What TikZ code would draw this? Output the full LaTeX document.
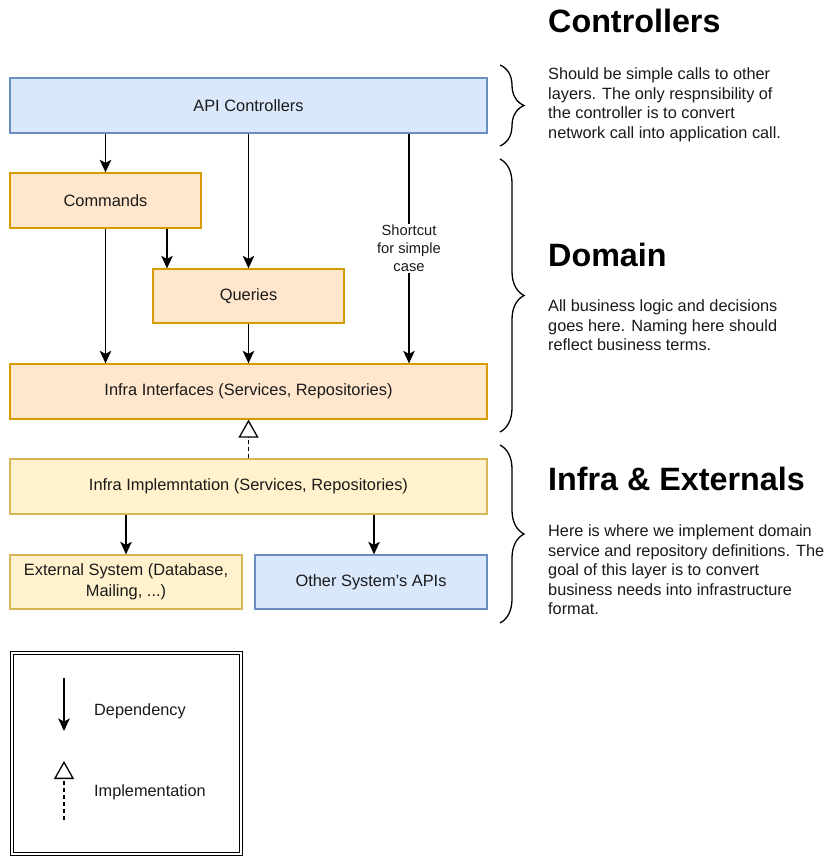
\documentclass[tikz,border=0pt]{standalone}
\usepackage{fontspec}
\setmainfont{Liberation Sans}
\usetikzlibrary{arrows.meta,decorations.pathreplacing,calc}
\definecolor{bfill}{HTML}{DAE8FC}
\definecolor{bdraw}{HTML}{6C8EBF}
\definecolor{ofill}{HTML}{FFE6CC}
\definecolor{odraw}{HTML}{D79B00}
\definecolor{yfill}{HTML}{FFF2CC}
\definecolor{ydraw}{HTML}{D6B656}
\definecolor{txt}{HTML}{1A1A1A}
\begin{document}
\begin{tikzpicture}[x=1pt,y=-1pt,
  box/.style={draw, line width=1.3pt, inner sep=2pt, align=center,
    font=\fontsize{16.4}{20.5}\selectfont, text=txt},
  bluebox/.style={box, fill=bfill, draw=bdraw},
  orangebox/.style={box, fill=ofill, draw=odraw},
  yellowbox/.style={box, fill=yfill, draw=ydraw},
  dep/.style={line width=1.5pt, draw=black, -{Stealth[length=12.5pt,width=11.5pt,inset=3pt]}},
  impl/.style={line width=1.2pt, draw=black, dash pattern=on 4pt off 3pt,
    -{Triangle[open,length=18pt,width=20pt,fill=white,line width=1.3pt]}},
  bracestyle/.style={decorate, decoration={brace, amplitude=24pt}, line width=1.3pt},
  head/.style={anchor=base west, inner sep=0pt, font=\fontsize{32.3}{38}\selectfont\bfseries},
  desc/.style={anchor=base west, inner sep=0pt, font=\fontsize{16.3}{19.5}\selectfont, text=txt},
  legtext/.style={anchor=west, inner sep=0pt, font=\fontsize{16.3}{19.5}\selectfont, text=txt}
]
\useasboundingbox[fill=white] (0,0) rectangle (828,867);

% boxes
\node[bluebox, minimum width=477pt, minimum height=55pt] (api) at (248.5,105.5) {API Controllers};
\node[orangebox, minimum width=191pt, minimum height=55pt] (cmd) at (105.5,200.5) {Commands};
\node[orangebox, minimum width=191pt, minimum height=54pt] (qry) at (248.5,296) {Queries};
\node[orangebox, minimum width=477pt, minimum height=55pt] (ii) at (248.5,391.5) {Infra Interfaces (Services, Repositories)};
\node[yellowbox, minimum width=477pt, minimum height=55pt] (impl) at (248.5,486.5) {Infra Implemntation (Services, Repositories)};
\node[yellowbox, minimum width=232pt, minimum height=54pt] (ext) at (126,582) {External System (Database,\\Mailing, ...)};
\node[bluebox, minimum width=232pt, minimum height=54pt] (other) at (371,582) {Other System's APIs};

% helper x positions
\coordinate (scx) at (409,0);
\coordinate (cqx) at (167,0);
\coordinate (otx) at (374,0);

% connectors
\draw[dep] (api.south -| cmd) -- (cmd.north);
\draw[dep] (api.south -| qry) -- (qry.north);
\draw[dep] (api.south -| scx) -- node[fill=white, inner sep=1pt, align=center,
   font=\fontsize{14.7}{18}\selectfont, text=txt] (sc) {Shortcut\\for simple\\case} (ii.north -| scx);
\draw[dep] (cmd.south -| cqx) -- (qry.north -| cqx);
\draw[dep] (cmd.south) -- (ii.north -| cmd);
\draw[dep] (qry.south) -- (ii.north -| qry);
\draw[impl] (impl.north -| ii) -- (ii.south);
\draw[dep] (impl.south -| ext) -- (ext.north);
\draw[dep] (impl.south -| otx) -- (other.north -| otx);

% braces
\coordinate (b1t) at (500,65);  \coordinate (b1b) at (500,146);
\coordinate (b2t) at (500,159); \coordinate (b2b) at (500,432);
\coordinate (b3t) at (500,445); \coordinate (b3b) at (500,623);
\draw[bracestyle] (b1t) -- (b1b);
\draw[bracestyle] (b2t) -- (b2b);
\draw[bracestyle] (b3t) -- (b3b);

% headings and descriptions
\node[head] (hc) at (548,33) {Controllers};
\node[desc] (dc) at (548,80) {\begin{tabular}[t]{@{}l@{}}Should be simple calls to other\\layers. The only respnsibility of\\the controller is to convert\\network call into application call.\end{tabular}};
\node[head] (hd) at (548,266) {Domain};
\node[desc] (dd) at (548,311.5) {\begin{tabular}[t]{@{}l@{}}All business logic and decisions\\goes here. Naming here should\\reflect business terms.\end{tabular}};
\node[head] (hi) at (548,490) {Infra \& Externals};
\node[desc] (di) at (548,536.5) {\begin{tabular}[t]{@{}l@{}}Here is where we implement domain\\service and repository definitions. The\\goal of this layer is to convert\\business needs into infrastructure\\format.\end{tabular}};

% legend
\node[draw=black, double, double distance=2pt, line width=1pt,
  minimum width=229pt, minimum height=201pt] (legend) at (126.5,753.5) {};
\coordinate (dtop) at (64,678); \coordinate (dbot) at (64,731);
\draw[dep] (dtop) -- (dbot);
\coordinate (itop) at (64,761); \coordinate (ibot) at (64,820);
\draw[impl] (ibot) -- (itop);
\node[legtext] (ldep) at (94,711) {Dependency};
\node[legtext] (limp) at (94,792) {Implementation};
\end{tikzpicture}
\end{document}
